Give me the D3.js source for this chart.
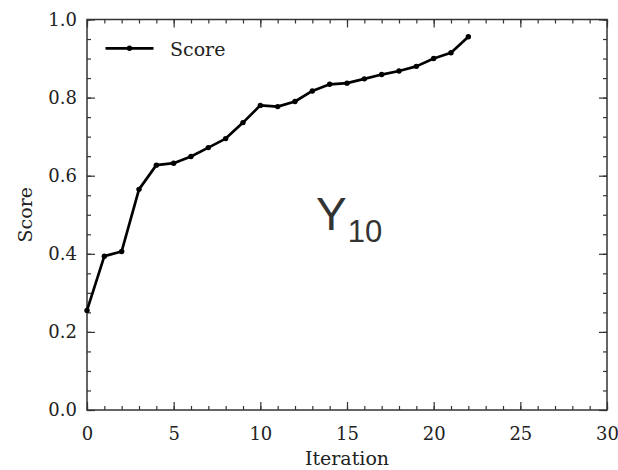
<!DOCTYPE html>
<html><head><meta charset="utf-8">
<script src="https://cdn.jsdelivr.net/npm/d3@7"></script>
<style>body{margin:0;background:#fff}</style>
</head><body>
<svg id="c" width="618" height="470"></svg>
<script>
const iterations = [0,1,2,3,4,5,6,7,8,9,10,11,12,13,14,15,16,17,18,19,20,21,22];
const scores = [0.255,0.394,0.406,0.565,0.627,0.632,0.649,0.672,0.695,0.736,0.780,0.777,0.790,0.817,0.834,0.837,0.848,0.859,0.868,0.880,0.900,0.915,0.956];
const xTicks = [0,5,10,15,20,25,30];
const yTicks = [0.0,0.2,0.4,0.6,0.8,1.0];
const seriesName = "Score";

const svg = d3.select("#c");
const L=87,R=607,T=19.5,B=410;
const x = d3.scaleLinear().domain([0,30]).range([L,R]);
const y = d3.scaleLinear().domain([0,1]).range([B,T]);
const serif = "'DejaVu Serif',serif";
const fs = 19, tfs = 18;
const axisColor="#333";

function styleAxis(g){
  g.selectAll(".domain").remove();
  g.selectAll("line").attr("stroke",axisColor).attr("stroke-width",1.2);
  g.selectAll("text").attr("font-family",serif).attr("font-size",tfs).attr("fill","#222");
}
const xMinor = d3.range(0,31,1), yMinor = d3.range(0,1.0001,0.05);
svg.append("g").attr("transform",`translate(0,${B})`).call(d3.axisBottom(x).tickValues(xMinor).tickSize(-4).tickFormat("")).call(styleAxis);
svg.append("g").attr("transform",`translate(0,${B})`).call(d3.axisBottom(x).tickValues(xTicks).tickSizeInner(-8).tickSizeOuter(0).tickPadding(17).tickFormat(d3.format("d"))).call(styleAxis);
svg.append("g").attr("transform",`translate(0,${T})`).call(d3.axisTop(x).tickValues(xMinor).tickSize(-4).tickFormat("")).call(styleAxis);
svg.append("g").attr("transform",`translate(0,${T})`).call(d3.axisTop(x).tickValues(xTicks).tickSize(-8).tickFormat("")).call(styleAxis);
svg.append("g").attr("transform",`translate(${L},0)`).call(d3.axisLeft(y).tickValues(yMinor).tickSize(-4).tickFormat("")).call(styleAxis);
svg.append("g").attr("transform",`translate(${L},0)`).call(d3.axisLeft(y).tickValues(yTicks).tickSizeInner(-8).tickSizeOuter(0).tickPadding(10).tickFormat(d3.format(".1f"))).call(styleAxis);
svg.append("g").attr("transform",`translate(${R},0)`).call(d3.axisRight(y).tickValues(yMinor).tickSize(-4).tickFormat("")).call(styleAxis);
svg.append("g").attr("transform",`translate(${R},0)`).call(d3.axisRight(y).tickValues(yTicks).tickSize(-8).tickFormat("")).call(styleAxis);

svg.append("rect").attr("x",L).attr("y",T).attr("width",R-L).attr("height",B-T)
  .attr("fill","none").attr("stroke",axisColor).attr("stroke-width",1.5);

const data = iterations.map((d,i)=>({x:d,y:scores[i]}));
svg.append("path").datum(data)
  .attr("d",d3.line().x(d=>x(d.x)).y(d=>y(d.y)))
  .attr("fill","none").attr("stroke","#000").attr("stroke-width",2.7).attr("stroke-linejoin","round");
svg.append("g").selectAll("circle").data(data).join("circle")
  .attr("cx",d=>x(d.x)).attr("cy",d=>y(d.y)).attr("r",2.7).attr("fill","#000");

// legend
svg.append("line").attr("x1",105.5).attr("x2",153.5).attr("y1",48.3).attr("y2",48.3).attr("stroke","#000").attr("stroke-width",2.7);
svg.append("circle").attr("cx",129.5).attr("cy",48.3).attr("r",2.7).attr("fill","#000");
svg.append("text").attr("x",170).attr("y",56).attr("font-family",serif).attr("font-size",fs).attr("fill","#222").text(seriesName);

// axis labels
svg.append("text").attr("x",(L+R)/2).attr("y",465).attr("text-anchor","middle")
  .attr("font-family",serif).attr("font-size",fs).attr("fill","#222").text("Iteration");
svg.append("text").attr("transform",`translate(31.5,${(T+B)/2}) rotate(-90)`).attr("text-anchor","middle")
  .attr("font-family",serif).attr("font-size",fs).attr("fill","#222").text("Score");

// annotation
const ann = svg.append("text").attr("x",316).attr("y",230).attr("font-family","'Liberation Sans',Arial,sans-serif").attr("fill","#333");
ann.append("tspan").attr("font-size",46).text("Y");
ann.append("tspan").attr("font-size",31).attr("dy",12).attr("dx",1).text("10");
</script>
</body></html>
